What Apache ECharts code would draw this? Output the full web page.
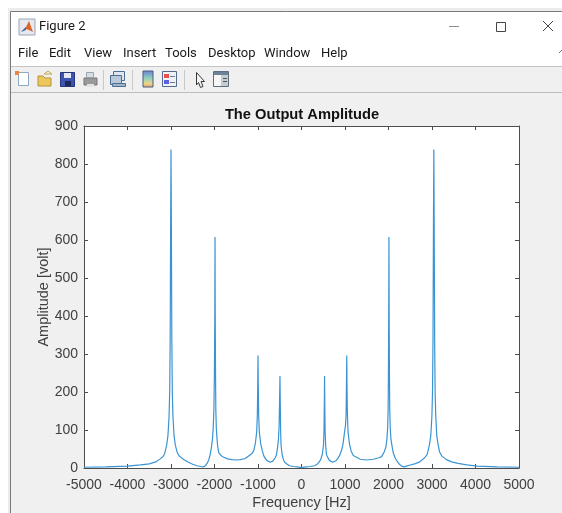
<!DOCTYPE html>
<html>
<head>
<meta charset="utf-8">
<title>Figure 2</title>
<script src="https://cdn.jsdelivr.net/npm/echarts@6/dist/echarts.min.js"></script>
<style>
  html, body { margin: 0; padding: 0; background: #fff; }
  #chart { width: 562px; height: 513px; }
</style>
</head>
<body>
<div id="chart"></div>
<script>
  // values
  const freqHz = [
    -5000, -4500, -4000, -3700, -3500, -3350, -3250, -3180, -3145, -3100, -3070, -3045, -3030, -3019, -3008, -3000,
    -2992, -2981, -2970, -2955, -2930, -2900, -2855, -2800, -2700, -2600, -2500, -2400, -2320, -2270, -2220, -2170, -2130, -2100, -2070, -2045, -2030, -2015, -2003, -1993, -1988,
    -1983, -1976, -1969, -1958, -1943, -1925, -1900, -1850, -1800, -1700, -1600, -1485, -1400, -1295, -1200, -1140, -1100, -1060, -1030, -1015, -1006, -1000,
    -994, -985, -970, -940, -900, -860, -800, -720, -660, -605, -575, -550, -530, -515, -505, -495,
    -488, -480, -470, -445, -415, -385, -330, -270, -180, -100, 0,
    100, 200, 300, 360, 410, 450, 480, 505, 518, 525, 530,
    535, 542, 555, 575, 640, 720, 790, 840, 880, 925, 957, 990, 1010, 1025, 1034, 1040,
    1046, 1055, 1070, 1100, 1140, 1190, 1225, 1350, 1494, 1650, 1780, 1840, 1900, 1940, 1965, 1980, 1991, 1998, 2005, 2010,
    2015, 2022, 2029, 2040, 2055, 2080, 2110, 2150, 2180, 2240, 2300, 2360, 2414, 2500, 2600, 2720, 2830, 2890, 2940, 2972, 2997, 3012, 3023, 3034, 3042,
    3050, 3061, 3072, 3087, 3110, 3135, 3175, 3225, 3330, 3450, 3600, 3800, 4040, 4500, 5000
  ];
  const amplitudeVolt = [
    2, 3, 5, 8, 11, 16, 24, 30, 38, 60, 85, 135, 200, 337, 650, 838,
    650, 337, 200, 135, 85, 60, 40, 30, 22, 15, 10, 6, 4, 3, 5, 12, 22, 35, 55, 78, 105, 150, 240, 400, 608,
    400, 240, 150, 105, 78, 55, 40, 33, 29, 24, 22, 21, 22, 25, 33, 38, 45, 65, 95, 140, 220, 296,
    220, 140, 95, 65, 45, 30, 20, 15, 18, 27, 35, 55, 75, 110, 170, 242,
    170, 100, 60, 35, 22, 15, 10, 6, 4, 3, 1,
    3, 4, 6, 10, 16, 25, 37, 60, 100, 170, 242,
    170, 100, 60, 34, 20, 15, 19, 26, 34, 48, 65, 95, 110, 140, 220, 296,
    220, 140, 95, 65, 45, 33, 29, 23, 21, 23, 27, 30, 42, 55, 78, 105, 150, 240, 400, 608,
    400, 240, 150, 105, 78, 58, 40, 27, 21, 11, 5, 3, 5, 8, 11, 16, 27, 36, 60, 85, 135, 200, 337, 650, 838,
    650, 337, 200, 135, 85, 65, 42, 32, 22, 16, 12, 8, 5, 3, 2
  ];
  const menuLabels = ['File', 'Edit', 'View', 'Insert', 'Tools', 'Desktop', 'Window', 'Help'];
  const menuLeft = [18, 49, 84, 123, 165, 208, 264, 321];

  const uiFont = 'Roboto, "Noto Sans", sans-serif';
  const plotFont = '"Liberation Sans", Arial, sans-serif';

  function box(x, y, width, height, fill, stroke) {
    return { type: 'rect', shape: { x: x, y: y, width: width, height: height }, style: { fill: fill, stroke: stroke || null, lineWidth: 1 }, silent: true };
  }
  function path(points, fill, stroke) {
    return { type: 'polygon', shape: { points: points }, style: { fill: fill, stroke: stroke || null, lineWidth: 1 }, silent: true };
  }
  function seg(x1, y1, x2, y2, color) {
    return { type: 'line', shape: { x1: x1, y1: y1, x2: x2, y2: y2 }, style: { stroke: color, lineWidth: 1 }, silent: true };
  }
  function label(text, x, y, font, fill) {
    return { type: 'text', x: x, y: y, style: { text: text, font: font, fill: fill, textVerticalAlign: 'middle' }, silent: true };
  }

  // figure window around the plot
  const chrome = [
    box(0, 0, 562, 513, '#ffffff'),
    box(8, 8, 554, 505, '#ececec'),
    box(10.5, 11.5, 560, 510, '#ffffff', '#7a7a7a'),
    box(11, 67, 551, 446, '#f0f0f0'),
    seg(11, 66.5, 562, 66.5, '#c4c4c4'),
    seg(11, 92.5, 562, 92.5, '#bdbdbd'),
    seg(103.5, 70, 103.5, 90, '#c8c8c8'),
    seg(132.5, 70, 132.5, 90, '#c8c8c8'),
    seg(184.5, 70, 184.5, 90, '#c8c8c8'),

    // title bar
    box(19, 19, 16, 16, '#e6e9f0', '#9aa3b5'),
    path([[21, 32], [26, 27], [29, 21], [33, 32], [29, 30], [26, 29]], '#d9662a'),
    path([[21, 32], [26, 27], [26, 30]], '#2c6fb0'),
    label('Figure 2', 39, 27, '13px ' + uiFont, '#1a1a1a'),
    seg(449, 26.5, 459, 26.5, '#8a8a8a'),
    box(496.5, 22.5, 9, 9, 'none', '#444444'),
    seg(543, 21, 553, 31, '#444444'),
    seg(553, 21, 543, 31, '#444444'),
    seg(559, 53, 562, 50, '#777777'),

    // toolbar icons
    box(18.5, 72.5, 10, 13, '#ffffff', '#8fa9c4'),
    box(15, 71, 4, 4, '#e8854a'),
    path([[38, 76], [43, 76], [45, 78], [51, 78], [51, 86], [38, 86]], '#eec65e', '#b8923a'),
    path([[44, 74], [48, 71], [52, 74]], 'none', '#c9a650'),
    box(60.5, 72.5, 14, 14, '#3d55b0', '#26357c'),
    box(64, 73, 7, 5, '#e4e8f4'),
    box(65, 81, 6, 5, '#20295e'),
    box(84, 78, 13, 7, '#9a9a9a', '#777777'),
    box(86.5, 72.5, 7, 5, '#d8dde4', '#9aa4b0'),
    box(87, 84, 7, 3, '#e4e4e4'),
    box(113.5, 71.5, 11, 9, '#dfe6ee', '#4d6d91'),
    box(110.5, 75.5, 11, 9, '#b9c9da', '#4d6d91'),
    box(112.5, 83.5, 13, 3, '#9fb3c8', '#4d6d91'),

    // colorbar, legend, cursor, property panel
    {
      type: 'rect',
      shape: { x: 143, y: 71, width: 10, height: 16 },
      style: {
        stroke: '#4a5a80', lineWidth: 1,
        fill: { type: 'linear', x: 0, y: 0, x2: 0, y2: 1, colorStops: [
          { offset: 0, color: '#6a7fd0' }, { offset: 0.45, color: '#8fd0c0' }, { offset: 0.75, color: '#e8d88a' }, { offset: 1, color: '#e8a070' }
        ] }
      },
      silent: true
    },
    box(162.5, 71.5, 14, 15, '#eef1f6', '#56688c'),
    box(164, 74, 5, 4, '#e8504a'),
    box(164, 80, 5, 4, '#5a60e0'),
    seg(170, 76.5, 175, 76.5, '#6a7a9a'),
    seg(170, 82.5, 175, 82.5, '#6a7a9a'),
    path([[196.5, 72.5], [204.5, 81.5], [201, 81.5], [203, 86.5], [200.5, 87.5], [198.5, 82.5], [196.5, 85]], '#f4f4f4', '#3a3a3a'),
    box(213.5, 71.5, 15, 15, '#f6f6f6', '#5e6e80'),
    box(214, 72, 14, 3, '#6d8296'),
    box(221, 75, 7, 11, '#c4ccd4'),
    seg(223, 78.5, 227, 78.5, '#555555'),
    seg(223, 81.5, 227, 81.5, '#555555')
  ];
  menuLabels.forEach(function (name, i) {
    chrome.push(label(name, menuLeft[i], 54, '13px ' + uiFont, '#1a1a1a'));
  });

  const plotAxisColor = '#4d4d4d';
  const chart = echarts.init(document.getElementById('chart'), null, { renderer: 'canvas' });
  chart.setOption({
    animation: false,
    backgroundColor: 'transparent',
    title: {
      text: 'The Output Amplitude',
      left: 297,
      top: 102,
      textAlign: 'center',
      textStyle: { fontFamily: plotFont, fontSize: 14.7, fontWeight: 'bold', color: '#111111' }
    },
    grid: { left: 84, right: 43, top: 126, bottom: 45, backgroundColor: '#ffffff', show: true, borderWidth: 0, outerBoundsMode: 'none' },
    xAxis: [
      {
        type: 'value',
        min: -5000,
        max: 5000,
        interval: 1000,
        name: 'Frequency [Hz]',
        nameLocation: 'middle',
        nameGap: 27,
        nameMoveOverlap: false,
        nameTextStyle: { fontFamily: plotFont, fontSize: 14.5, color: '#404040' },
        axisLine: { onZero: false, lineStyle: { color: plotAxisColor, width: 1 } },
        axisTick: { inside: true, length: 4, lineStyle: { color: plotAxisColor } },
        axisLabel: {
          fontFamily: plotFont, fontSize: 14, color: '#404040', margin: 10, showMinLabel: true, showMaxLabel: true,
          formatter: function (v) { return String(v); }
        },
        splitLine: { show: false }
      },
      {
        type: 'value',
        position: 'top',
        min: -5000,
        max: 5000,
        interval: 1000,
        axisLine: { onZero: false, lineStyle: { color: plotAxisColor, width: 1 } },
        axisTick: { inside: true, length: 4, lineStyle: { color: plotAxisColor } },
        axisLabel: { show: false },
        splitLine: { show: false }
      }
    ],
    yAxis: [
      {
        type: 'value',
        min: 0,
        max: 900,
        interval: 100,
        name: 'Amplitude [volt]',
        nameLocation: 'middle',
        nameGap: 33,
        nameMoveOverlap: false,
        nameTextStyle: { fontFamily: plotFont, fontSize: 14.5, color: '#404040' },
        axisLine: { onZero: false, lineStyle: { color: plotAxisColor, width: 1 } },
        axisTick: { inside: true, length: 4, lineStyle: { color: plotAxisColor } },
        axisLabel: { fontFamily: plotFont, fontSize: 14, color: '#404040', margin: 6, showMinLabel: true, showMaxLabel: true },
        splitLine: { show: false }
      },
      {
        type: 'value',
        position: 'right',
        min: 0,
        max: 900,
        interval: 100,
        axisLine: { onZero: false, lineStyle: { color: plotAxisColor, width: 1 } },
        axisTick: { inside: true, length: 4, lineStyle: { color: plotAxisColor } },
        axisLabel: { show: false },
        splitLine: { show: false }
      }
    ],
    graphic: chrome.map(function (el) { return Object.assign({ z: -100, zlevel: 0 }, el); }),
    series: [
      {
        name: 'Amplitude',
        type: 'line',
        data: freqHz.map(function (f, i) { return [f, amplitudeVolt[i]]; }),
        showSymbol: false,
        smooth: false,
        clip: true,
        lineStyle: { color: '#3a94d4', width: 1.2 }
      }
    ]
  });
</script>
</body>
</html>
